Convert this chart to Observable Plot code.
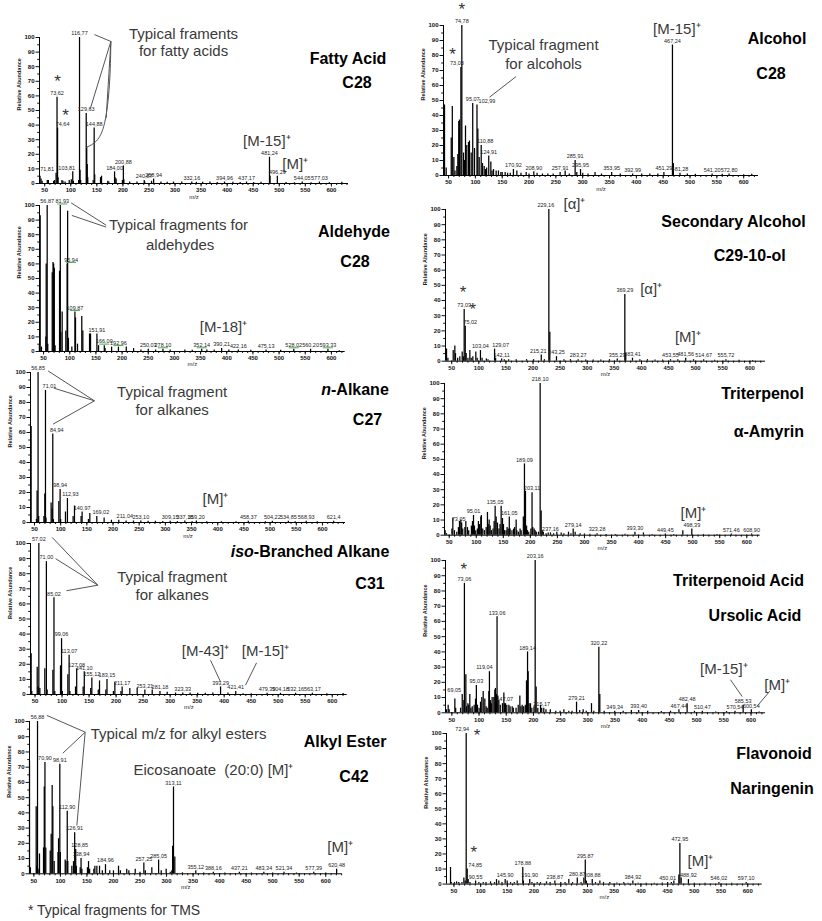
<!DOCTYPE html>
<html><head><meta charset="utf-8">
<script src="https://cdn.jsdelivr.net/npm/d3@7"></script>
<script src="https://cdn.jsdelivr.net/npm/@observablehq/plot@0.6"></script>
<style>
body{margin:0;background:#fff;}
#fig{position:relative;width:822px;height:921px;background:#fff;font-family:"Liberation Sans",Arial,sans-serif;overflow:hidden}
.panel{position:absolute}
.title{position:absolute;transform:translate(-50%,-50%);font-weight:bold;font-size:16px;color:#000;white-space:nowrap;z-index:2}
.note{position:absolute;font-size:14px;color:#333;white-space:nowrap;line-height:16px}
</style></head><body><div id="fig"></div><script>
// ---------- tick values ----------
const xTickValues = [50,100,150,200,250,300,350,400,450,500,550,600];
const yTickValues = [0,10,20,30,40,50,60,70,80,90,100];

// ---------- Fatty acid C28 ----------
const fattyAcidPeaks = [[41,5],[43,3],[45,1.5],[55,2],[57,2],[67,1.5],[69,2],[71.81,7],[73.62,59],[74.64,38],[75.6,4],[83,2],[85,1.5],[89,1],[97,2],[101,2.5],[103.81,8],[105,1.5],[115,2],[116.77,100],[117.8,9],[119,2],[129.63,48],[130.6,25],[131.6,13],[132.6,4],[143,2],[144.88,38],[145.9,6],[157,4],[159,5],[171,1.5],[173,1],[184.00,8],[185,4],[187,3],[199,2],[200.88,12],[201.9,2.5],[213,1],[227,1],[240.87,2],[241.9,1],[255,1.5],[258.94,3],[273,1],[285,0.8],[297,1],[313,1],[332.16,1],[341,0.8],[353,0.8],[367,1],[381,0.7],[394.96,1],[411,0.8],[425,0.6],[437.17,1],[451,0.6],[465,0.8],[481.24,18],[482.3,5],[496.29,5],[513,0.6],[529,0.5],[544.05,1],[561,0.5],[577.03,1],[596,0.5],[620,0.8]];
const fattyAcidLabels = [[71.81,"71,81"],[73.62,"73,62"],[74.64,"74,64"],[103.81,"103,81"],[116.77,"116,77"],[129.63,"129,63"],[144.88,"144,88"],[184.00,"184,00"],[200.88,"200,88"],[240.87,"240,87"],[258.94,"258,94"],[332.16,"332,16"],[394.96,"394,96"],[437.17,"437,17"],[481.24,"481,24"],[496.29,"496,29"],[544.05,"544,05"],[577.03,"577,03"]];

// ---------- Alcohol C28 ----------
const alcoholPeaks = [[41,3],[42.5,47],[45.6,5],[55,25],[57,46],[59.9,12],[62,3],[65.5,6],[67.3,14],[69,36],[70.5,37],[73.03,72],[74.78,100],[77.9,15],[79.7,10],[81.6,33],[84,20],[87.2,22],[89,23],[92.2,15],[95.07,48],[98.4,18],[102.99,47],[104.6,31],[107.1,12],[110.88,20],[113.3,8],[116.4,6],[119,4],[121,5],[124.91,13],[128.8,9],[131,3],[133.8,4],[138.7,3],[143,3],[147.5,2],[150,2],[155.5,2],[160,1.5],[165,1.5],[170.92,4],[177.3,3],[185,1.5],[194.7,2],[200,1],[208.9,2.5],[215,1.5],[225,1],[235,1],[245,1],[257.91,2],[267.3,3],[275,1],[285.91,10],[289,2],[295.95,4],[300,1.5],[310,1],[323,2],[335,1],[353.95,2],[370,1],[392.99,1],[410,1],[425,1],[440,1],[451.29,2],[467.24,87],[469,8],[481.28,1.5],[495,1],[510,0.8],[541.2,1],[560,0.8],[572.8,1],[600,0.5],[615,0.8]];
const alcoholLabels = [[73.03,"73,03"],[74.78,"74,78"],[95.07,"95,07"],[102.99,"102,99"],[110.88,"110,88"],[124.91,"124,91"],[170.92,"170,92"],[208.9,"208,90"],[257.91,"257,91"],[285.91,"285,91"],[295.95,"295,95"],[353.95,"353,95"],[392.99,"392,99"],[451.29,"451,29"],[467.24,"467,24"],[481.28,"481,28"],[541.2,"541,20"],[572.8,"572,80"]];

// ---------- Aldehyde C28 ----------
const aldehydePeaks = [[42,4],[43.5,93],[46,3],[54.3,10],[55,60],[56.87,100],[58,5],[66.5,54],[68,61],[69.2,60],[70.5,57],[72,4],[80.5,55],[81.93,100],[83,13],[85.5,27],[92.5,14],[94.9,60],[95.94,96],[97.5,9],[104,3],[109.87,27],[111,23],[114.8,5],[123,24],[125,14],[137.8,12],[139.7,12],[151.91,12],[155,4],[166,4],[167.5,2],[180,3],[193,3],[208,3],[222,2],[236,1],[250.03,1.5],[264,1],[278.1,1.5],[292,1],[320,1],[334,0.8],[352.14,1.5],[362,1],[376,1],[390.21,2],[404,1],[422.16,1],[446,0.8],[475.13,1],[503,0.8],[528.02,1.5],[560.2,1.5],[593.33,1.5],[615,0.5]];
const aldehydeLabels = [[56.87,"56,87"],[81.93,"81,93"],[94.9,"95,94"],[109.87,"109,87"],[151.91,"151,91"],[166,"166,00"],[193,"192,96"],[250.03,"250,03"],[278.1,"278,10"],[352.14,"352,14"],[390.21,"390,21"],[422.16,"422,16"],[475.13,"475,13"],[528.02,"528,02"],[560.2,"560,20"],[593.33,"593,33"]];

// ---------- Secondary alcohol C29-10-ol ----------
const secAlcoholPeaks = [[40.5,8],[43,2],[52.8,7],[55.8,10],[57,5],[61,2],[65,3],[69.4,6],[71.5,3],[73.03,34],[75.02,23],[76.7,5],[80,2],[83.5,7],[86,2],[89,3],[94.5,6],[97,2],[103.04,7],[106,2],[114,1.5],[117,1],[129.07,8],[131,2],[142.11,1.5],[147,1],[155,1],[169,1],[188,1],[201,1],[215.21,4],[221,1],[229.16,100],[231,19],[243.25,3],[257,1],[269,1],[283.27,1],[297,0.8],[311,0.8],[325,0.8],[341,1],[355.29,1.5],[369.29,44],[371,5],[383.41,2],[397,1],[411,1],[425,0.8],[439,0.8],[453.55,1],[467,1],[481.56,2],[496,1],[514.67,1],[535,0.6],[555.72,1],[580,0.6],[605,0.5]];
const secAlcoholLabels = [[73.03,"73,03"],[75.02,"75,02"],[103.04,"103,04"],[129.07,"129,07"],[142.11,"142,11"],[215.21,"215,21"],[229.16,"229,16"],[243.25,"243,25"],[283.27,"283,27"],[355.29,"355,29"],[369.29,"369,29"],[383.41,"383,41"],[453.55,"453,55"],[481.56,"481,56"],[514.67,"514,67"],[555.72,"555,72"]];

// ---------- n-Alkane C27 ----------
const nAlkanePeaks = [[43.6,64],[53.8,2],[55,21],[56.85,100],[58,4],[68,4],[69.7,19],[71.01,88],[72,3],[81.8,13],[83.7,9],[84.94,59],[86,2],[96.5,14],[98.94,22],[100,2],[109.2,7],[112.93,16],[123.8,4],[126.4,11],[139,4],[140.97,7],[153,2],[155.7,6],[169.02,4],[183,3],[197,1.5],[211.04,1.5],[225,1],[239,1],[253.1,1],[267,0.8],[281,0.8],[295,0.6],[309.15,0.8],[323,0.6],[337.16,1],[351,0.5],[359.2,1],[379,0.5],[407,0.5],[435,0.5],[458.37,0.8],[491,0.5],[504.22,0.8],[534.85,0.8],[548,0.5],[568.93,0.8],[590,0.5],[621.4,0.8]];
const nAlkaneLabels = [[56.85,"56,85"],[71.01,"71,01"],[84.94,"84,94"],[98.94,"98,94"],[112.93,"112,93"],[140.97,"140,97"],[169.02,"169,02"],[211.04,"211,04"],[253.1,"253,10"],[309.15,"309,15"],[337.16,"337,16"],[359.2,"359,20"],[458.37,"458,37"],[504.22,"504,22"],[534.85,"534,85"],[568.93,"568,93"],[621.4,"621,4"]];

// ---------- Triterpenol alpha-Amyrin ----------
const amyrinPeaks = [[42.5,3],[45,1],[55,4],[56.7,11],[59.7,3],[64,2],[67,5],[69,9],[71.4,10],[73.05,8],[75,4],[79,5],[80.7,9],[83.8,5],[86,3],[91,6],[93,9],[94.9,13],[96.7,6],[99,3],[102,4],[104,9],[106,7],[108.4,12],[109.5,13],[112,4],[115,3],[118.3,5],[120.7,15],[122,7],[123.8,10],[125.7,6],[128,3],[131,4],[133,9],[134.9,19],[136.8,12],[139.2,8],[142,4],[144,7],[146,19],[148.5,11],[150.3,7],[152,3],[155,3],[157,5],[159,4],[161.05,12],[162.6,4],[166,3],[169,4],[171,5],[173.7,10],[175,3],[178,2],[181,4],[183,3],[187,12],[189.09,47],[191,29],[193,6],[194.7,3],[197,2],[201,4],[203.11,28],[204.5,5],[207,4],[208.9,3],[211,2],[215,2],[218.1,100],[220,16],[222,3],[224,2],[229,1],[233,1.5],[237.16,1.5],[243,1],[248.9,2],[257,1.5],[262,1],[270.5,2],[275,1],[279.14,4],[282.8,2],[292,1],[300,0.8],[310,0.6],[323.28,1],[340,0.5],[357,0.5],[375,0.6],[393.3,2],[409,1.5],[425,0.5],[449.45,0.8],[465,0.5],[481.8,3],[498.39,4],[520,0.5],[545,0.5],[571.46,0.8],[608.9,0.8]];
const amyrinLabels = [[73.05,"73,05"],[94.9,"95,01"],[134.9,"135,05"],[161.05,"161,05"],[189.09,"189,09"],[203.11,"203,11"],[218.1,"218,10"],[237.16,"237,16"],[279.14,"279,14"],[323.28,"323,28"],[393.3,"393,30"],[449.45,"449,45"],[498.39,"498,39"],[571.46,"571,46"],[608.9,"608,90"]];

// ---------- iso-Branched alkane C31 ----------
const isoAlkanePeaks = [[42.8,27],[44,2],[54,18],[55.8,5],[57.02,100],[58.9,4],[68.1,17],[71,88],[72.4,3],[83,16],[85.02,64],[86.5,2],[97.1,19],[99.06,37],[100.5,2],[110.7,13],[113.07,26],[114.5,2],[124.9,5],[127.08,17],[139,5],[141.1,15],[153,4],[155.12,11],[167,3],[169.3,9],[181,3],[183.15,10],[195,2],[197.7,8],[209,2],[211.17,5],[225.4,4],[239,4],[253.21,3],[266.8,3],[281.18,2],[294.5,1.5],[310,1],[323.33,1],[337,1],[351,0.8],[365,0.8],[379,1],[393.29,5],[407,1],[421.41,2],[435,0.5],[450,0.5],[479.39,0.8],[504.18,0.8],[532.16,0.8],[563.17,0.8],[590,0.5],[620,0.6]];
const isoAlkaneLabels = [[57.02,"57,02"],[71,"71,00"],[85.02,"85,02"],[99.06,"99,06"],[113.07,"113,07"],[127.08,"127,08"],[141.1,"141,10"],[155.12,"155,12"],[183.15,"183,15"],[211.17,"211,17"],[253.21,"253,21"],[281.18,"281,18"],[323.33,"323,33"],[393.29,"393,29"],[421.41,"421,41"],[479.39,"479,39"],[504.18,"504,18"],[532.16,"532,16"],[563.17,"563,17"]];

// ---------- Triterpenoid acid, ursolic acid ----------
const ursolicPeaks = [[40,2],[43.2,5],[45,2],[55.5,9],[57,3],[66,3],[69.05,12],[72,8],[73.06,85],[75.7,25],[77,4],[79.4,6],[81,5],[83,12],[85,3],[87.4,4],[91,5],[93.5,9],[95.03,18],[97,5],[100,3],[102.7,7],[105,10],[107.6,14],[110.6,9],[113,4],[115,3],[118,14],[119.04,27],[121,8],[122.5,6],[124,10],[127.2,10],[129,15],[130.2,16],[132,12],[133.06,63],[134.5,11],[136.4,8],[139,5],[143,6],[145.6,13],[147.07,6],[148.6,6],[151,5],[154.8,5],[157,4],[160.9,4],[163,3],[168,3],[172,5],[175,11],[177,4],[179.3,5],[182,4],[185,5],[187.2,21],[189.14,40],[190.3,27],[192,6],[194.6,6],[197,3],[201,4],[203.16,100],[205,17],[208,3],[213,5],[215.17,3],[219,3],[223,2],[231,2],[241,1],[249,1],[255.9,2],[265,1],[271,1],[279.21,7],[285,1.5],[291.4,2],[297,1],[306.7,6],[311,1],[320.22,43],[322,12],[330,1],[349.34,1],[365,1],[380,1.5],[393.4,1.5],[410,1],[435,0.8],[452,1],[467.44,2],[482.48,6],[496,1],[510.47,1],[535,0.6],[555,0.8],[570.54,1],[585.53,5],[600.54,2],[615,0.6]];
const ursolicLabels = [[69.05,"69,05"],[73.06,"73,06"],[95.03,"95,03"],[119.04,"119,04"],[133.06,"133,06"],[147.07,"147,07"],[189.14,"189,14"],[203.16,"203,16"],[215.17,"215,17"],[279.21,"279,21"],[320.22,"320,22"],[349.34,"349,34"],[393.4,"393,40"],[467.44,"467,44"],[482.48,"482,48"],[510.47,"510,47"],[570.54,"570,54"],[585.53,"585,53"],[600.54,"600,54"]];

// ---------- Alkyl ester C42 ----------
const alkylEsterPeaks = [[41.8,74],[43.5,4],[54.4,44],[55.5,5],[56.88,100],[58,3],[60.6,13],[68.2,17],[69.6,57],[70.9,73],[72.5,17],[80.8,15],[82.6,26],[84.5,58],[85.8,44],[88.3,8],[95.5,14],[96.5,23],[98.91,72],[99.9,14],[109,9],[110.5,8],[112.9,41],[114,8],[121.6,5],[124.7,8],[126.91,27],[128.85,16],[130,5],[137.3,4],[138.94,10],[140.5,3],[151,4],[153,8],[155,3],[163,3],[165,5],[168.7,5],[173.7,5],[179,2],[184.96,6],[193,2],[200,2],[209.5,5],[213,2],[225,3],[229,2],[241,3],[250,1],[257.25,7],[260,2],[272.3,4],[285.05,9],[290,2],[299.3,3],[307,1],[310,2],[311.5,18],[313.11,57],[315.6,11],[330,0.6],[355.12,2],[370,0.5],[388.16,1],[410,0.5],[437.21,1],[460,0.5],[483.34,1],[500,0.5],[521.34,1],[545,0.5],[577.39,1],[600,0.5],[620.48,3]];
const alkylEsterLabels = [[56.88,"56,88"],[70.9,"70,90"],[98.91,"98,91"],[112.9,"112,90"],[126.91,"126,91"],[128.85,"128,85"],[138.94,"138,94"],[184.96,"184,96"],[257.25,"257,25"],[285.05,"285,05"],[313.11,"313,11"],[355.12,"355,12"],[388.16,"388,16"],[437.21,"437,21"],[483.34,"483,34"],[521.34,"521,34"],[577.39,"577,39"],[620.48,"620,48"]];

// ---------- Flavonoid naringenin ----------
const naringeninPeaks = [[43.6,11],[45,1],[51,1],[55,1.5],[59,1],[65,1],[68.6,4],[71,2],[72.94,100],[74.85,10],[76.7,3],[80,1],[90.55,2],[96.7,1],[104.8,1],[110,1],[118.5,1.5],[126,1],[129.7,3],[134,2],[140,1],[145.9,3],[149.7,2],[156,1],[163,1],[168.4,2],[178.88,11],[180,2],[191.9,3],[196,1],[205.9,1],[212,1],[223.3,1.5],[230,1],[238.87,2],[250,1],[258,1],[265.1,3],[272,1],[280.87,4],[288,1],[293.2,4],[295.87,16],[298,2],[308.88,3],[315,1],[323.2,2],[330,1],[341.9,1],[355,0.8],[368,1],[376,0.6],[384.92,2],[395,0.6],[410,0.6],[425,0.6],[440,0.8],[450.01,1],[457,1],[461.7,2],[471,6],[472.95,27],[475.4,4],[488.92,3],[500,0.6],[520,0.6],[546.02,1],[570,0.5],[597.1,1]];
const naringeninLabels = [[72.94,"72,94"],[74.85,"74,85"],[90.55,"90,55"],[145.9,"145,90"],[178.88,"178,88"],[191.9,"191,90"],[238.87,"238,87"],[280.87,"280,87"],[295.87,"295,87"],[308.88,"308,88"],[384.92,"384,92"],[450.01,"450,01"],[472.95,"472,95"],[488.92,"488,92"],[546.02,"546,02"],[597.1,"597,10"]];

// ---------- panel layout (positions / annotations) ----------
const panels = [
  {peaks: fattyAcidPeaks, labels: fattyAcidLabels, domain: [40, 632.8], frame: {left: 39.3, right: 348.3, top: 36.7, bottom: 182.7},
   shift: {"71,81": -9, "74,64": 5, "103,81": -6},
   stars: [[74.6, 73.5], [89.9, 50]],
   notes: [[316.3, 102.3, "Typical framents"], [316.3, 90.4, "for fatty acids"], [476.1, 29.2, "[M-15]⁺"], [530.5, 13.2, "[M]⁺"]],
   links: [[176.9, 97.3, 145.5, 102], [176.9, 97.3, 137.2, 50.9], [176.9, 97.3, 167.9, 44.7]],
   curve: [[176.9, 97.3], [175.6, 68], [166, 38.4], [150, 28], [129.6, 24.7]],
   titles: [["Fatty Acid", 348, 59], ["C28", 357, 83]]},
  {peaks: alcoholPeaks, labels: alcoholLabels, domain: [40.6, 627.6], frame: {left: 443.3, right: 758.3, top: 25, bottom: 175},
   shift: {"73,03": -4, "102,99": 10, "110,88": 4},
   stars: [[74.78, 114], [57.4, 84]],
   notes: [[227, 86.7, "Typical fragment"], [227, 74.4, "for alcohols"], [475.4, 97.8, "[M-15]⁺"]],
   links: [[176, 66, 126.3, 52.2]],
   titles: [["Alcohol", 777, 39], ["C28", 771, 74]]},
  {peaks: aldehydePeaks, labels: aldehydeLabels, domain: [42.2, 626.3], frame: {left: 39.3, right: 345, top: 205, bottom: 351},
   shift: {"81,93": 2, "95,94": 4},
   green: ["81,93", "95,94", "109,87", "166,00", "192,96", "278,10", "352,14", "528,02", "593,33"],
   notes: [[307.8, 86.3, "Typical fragments for"], [311, 72.6, "aldehydes"], [393.8, 16.7, "[M-18]⁺"]],
   links: [[169.6, 86.5, 102.7, 101.8], [169.6, 85.2, 104, 93.2]],
   titles: [["Aldehyde", 354, 232], ["C28", 355, 262]]},
  {peaks: secAlcoholPeaks, labels: secAlcoholLabels, domain: [38.6, 628.7], frame: {left: 445, right: 765, top: 209, bottom: 360.7},
   shift: {"75,02": 5, "129,07": 6, "215,21": -3, "229,16": -3},
   stars: [[71.2, 48.5], [89, 37.5]],
   notes: [[276.5, 103.7, "[α]⁺"], [417.8, 47.7, "[α]⁺"], [485.5, 15.8, "[M]⁺"]],
   titles: [["Secondary Alcohol", 733.5, 222], ["C29-10-ol", 749.7, 256]]},
  {peaks: nAlkanePeaks, labels: nAlkaneLabels, domain: [42.4, 644], frame: {left: 30, right: 345, top: 371.7, bottom: 521.7},
   shift: {"71,01": 4, "84,94": 4, "112,93": 3, "169,02": 4, "211,04": 6},
   notes: [[312.9, 86.7, "Typical fragment"], [312.9, 74.9, "for alkanes"], [395.6, 15.6, "[M]⁺"]],
   links: [[164.6, 81.1, 76.1, 101], [164.6, 81.1, 86.9, 89.6], [164.6, 81.1, 85.6, 65.6]],
   titles: [["<i>n</i>-Alkane", 355, 390], ["C27", 367.5, 420]]},
  {peaks: amyrinPeaks, labels: amyrinLabels, domain: [41.3, 624.8], frame: {left: 444.3, right: 760, top: 383.3, bottom: 535},
   shift: {"73,05": -3},
   notes: [[501.5, 14.3, "[M]⁺"]],
   titles: [["Triterpenol", 762.5, 394], ["α-Amyrin", 768.8, 432]]},
  {peaks: isoAlkanePeaks, labels: isoAlkaneLabels, domain: [41.6, 627.6], frame: {left: 30, right: 346.7, top: 543.3, bottom: 694.3},
   notes: [[303.8, 77.9, "Typical fragment"], [303.8, 65.8, "for alkanes"], [365.5, 28.9, "[M-43]⁺"], [476.5, 28.9, "[M-15]⁺"]],
   links: [[166.2, 72.4, 81.7, 104], [166.2, 72.4, 87.9, 90], [166.2, 72.4, 108.2, 68.7], [374.7, 22.7, 393.2, 8.4], [459.9, 21, 439.5, 6.2]],
   titles: [["<i>iso</i>-Branched Alkane", 310, 552], ["C31", 370, 584]]},
  {peaks: ursolicPeaks, labels: ursolicLabels, domain: [38.3, 626.6], frame: {left: 445, right: 765, top: 560, bottom: 712.3},
   shift: {"69,05": -8, "119,04": -5},
   stars: [[72, 97.5]],
   notes: [[550, 28.9, "[M-15]⁺"], [648, 17.9, "[M]⁺"]],
   links: [[562.2, 21.7, 583.7, 10.7], [634.5, 14.2, 611.3, 4.4]],
   titles: [["Triterpenoid Acid", 738.5, 581], ["Ursolic Acid", 755, 616]]},
  {peaks: alkylEsterPeaks, labels: alkylEsterLabels, domain: [41.8, 630.4], frame: {left: 29.3, right: 341.7, top: 721, bottom: 873.3},
   shift: {"128,85": 4},
   notes: [[322.6, 91.9, "Typical m/z for alkyl esters"], [388.5, 67.8, "Eicosanoate  (20:0) [M]⁺"], [627.2, 17.5, "[M]⁺"]],
   links: [[146.7, 93, 74.5, 104], [146.7, 93, 104.6, 79.2], [146.7, 93, 131, 31.7]],
   titles: [["Alkyl Ester", 345, 742], ["C42", 354, 777]]},
  {peaks: naringeninPeaks, labels: naringeninLabels, domain: [36.1, 627], frame: {left: 446, right: 761.7, top: 732.7, bottom: 883.3},
   shift: {"72,94": -4, "74,85": 8},
   stars: [[93.5, 102.2], [87.3, 24.5]],
   notes: [[511.6, 15.5, "[M]⁺"]],
   titles: [["Flavonoid", 774, 754], ["Naringenin", 772, 789]]}
];

const fig = document.getElementById("fig");
const FONT = "'Liberation Sans', Arial, sans-serif";

function spectrum(cfg) {
  const {peaks, labels, domain, frame} = cfg;
  const mL = 32, mR = 14, mT = 18, mB = 24;
  const fw = frame.right - frame.left, fh = frame.bottom - frame.top;
  const pxToMz = (domain[1] - domain[0]) / fw;
  const height = new Map(peaks.map(([mz, v]) => [mz, v]));
  const shift = cfg.shift || {};
  const labelRows = labels.map(([mz, t]) => ({x: mz + (shift[t] || 0) * pxToMz, y: height.has(mz) ? height.get(mz) : 1, t}));
  const greenSet = new Set(cfg.green || []);
  const greenRows = labelRows.filter(d => greenSet.has(d.t));
  const minorX = d3.range(50, domain[1], 10);
  const minorY = d3.range(5, 100, 10);
  const svg = Plot.plot({
    width: fw + mL + mR, height: fh + mT + mB,
    marginLeft: mL, marginRight: mR, marginTop: mT, marginBottom: mB,
    x: {domain, label: null},
    y: {domain: [0, 100], label: null},
    style: {background: "transparent", overflow: "visible", maxWidth: "none", fontFamily: FONT, fontSize: "6px", color: "#111"},
    marks: [
      Plot.axisY({ticks: yTickValues, tickSize: 3.5, tickPadding: 1.5, fontSize: 6, label: null, fontWeight: "bold"}),
      Plot.axisY({ticks: minorY, tickSize: 1.8, tickFormat: () => "", label: null}),
      Plot.axisX({ticks: xTickValues.filter(v => v <= domain[1]), tickSize: 3.5, tickPadding: 1, fontSize: 6, label: null, fontWeight: "bold"}),
      Plot.axisX({ticks: minorX, tickSize: 2, tickFormat: () => "", label: null}),
      Plot.ruleY([0], {stroke: "#000", strokeWidth: 1}),
      Plot.ruleX([domain[0]], {y1: 0, y2: 100, stroke: "#000", strokeWidth: 1}),
      Plot.ruleX(peaks, {x: d => d[0], y1: 0, y2: d => d[1], stroke: "#000", strokeWidth: 1.25}),
      Plot.link(greenRows, {x1: d => d.x - 5 * pxToMz, x2: d => d.x + 5 * pxToMz, y1: "y", y2: "y", dy: -1.5, stroke: "#4caf50", strokeWidth: 1}),
      Plot.text(labelRows, {x: "x", y: "y", text: "t", dy: -4, fontSize: 5.5, fill: "#222"}),
      Plot.text(["m/z"], {text: d => d, frameAnchor: "bottom", dy: 15, fontSize: 6, fill: "#222"}),
      Plot.text(["Relative Abundance"], {text: d => d, frameAnchor: "left", rotate: -90, dx: -20, fontSize: 5.5, fontWeight: "bold", fill: "#222"}),
      Plot.link(cfg.links || [], {x1: d => d[0], y1: d => d[1], x2: d => d[2], y2: d => d[3], stroke: "#555", strokeWidth: 1}),
      Plot.line(cfg.curve || [], {x: d => d[0], y: d => d[1], curve: "basis", stroke: "#555", strokeWidth: 1}),
      Plot.text(cfg.stars || [], {x: d => d[0], y: d => d[1], text: () => "*", fontSize: 17, dy: 5, fill: "#333"}),
      Plot.text(cfg.notes || [], {x: d => d[0], y: d => d[1], text: d => d[2], fontSize: 15, fill: "#3a3a3a"})
    ]
  });
  const wrap = document.createElement("div");
  wrap.className = "panel";
  wrap.style.left = (frame.left - mL) + "px";
  wrap.style.top = (frame.top - mT) + "px";
  wrap.appendChild(svg);
  fig.appendChild(wrap);
  for (const [t, x, y] of cfg.titles) {
    const d = document.createElement("div");
    d.className = "title";
    d.innerHTML = t;
    d.style.left = x + "px";
    d.style.top = y + "px";
    fig.appendChild(d);
  }
}
panels.forEach(spectrum);

const note = document.createElement("div");
note.className = "note";
note.textContent = "* Typical fragments for TMS";
note.style.left = "28px";
note.style.top = "902px";
fig.appendChild(note);
</script></body></html>
